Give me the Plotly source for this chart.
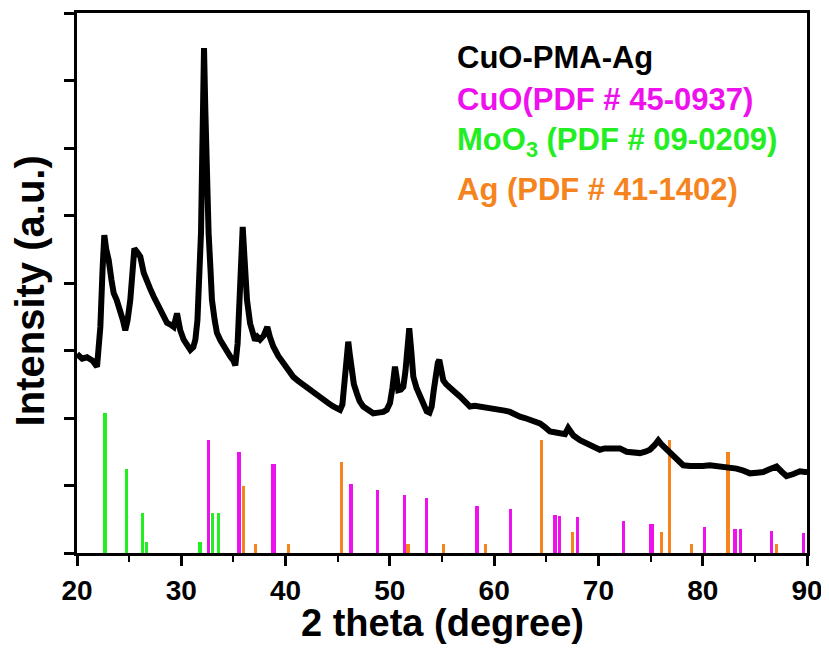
import plotly.graph_objects as go

# ---- XRD pattern of CuO-PMA-Ag ----
two_theta = [20.0, 20.5, 20.96, 21.5, 21.92, 22.24, 22.45, 22.62, 22.8, 23.04, 23.3, 23.52, 23.8, 24.15, 24.4, 24.63,
             24.85, 25.11, 25.3, 25.5, 25.8, 26.07, 26.4, 26.71, 27.0, 27.35, 27.7, 27.99, 28.3, 28.63, 29.0, 29.27,
             29.59, 29.9, 30.23, 30.55, 30.87, 31.15, 31.35, 31.55, 31.66, 31.8, 31.89, 32.0, 32.1, 32.18, 32.3, 32.45,
             32.62, 32.8, 32.94, 33.2, 33.42, 33.75, 34.06, 34.4, 34.7, 35.0, 35.18, 35.4, 35.6, 35.75, 35.89, 36.05,
             36.3, 36.6, 36.94, 37.07, 37.3, 37.55, 37.9, 38.25, 38.5, 38.82, 39.3, 39.78, 40.25, 40.74, 41.2, 41.7,
             42.2, 42.66, 43.1, 43.61, 44.1, 44.57, 45.0, 45.22, 45.45, 45.6, 45.8, 46.01, 46.15, 46.33, 46.55, 46.82,
             47.1, 47.45, 47.9, 48.41, 48.9, 49.37, 49.7, 50.01, 50.25, 50.49, 50.65, 50.81, 51.05, 51.29, 51.5, 51.7,
             51.86, 52.05, 52.25, 52.55, 52.89, 53.2, 53.53, 53.8, 54.01, 54.2, 54.42, 54.6, 54.74, 54.9, 55.12, 55.4,
             55.76, 56.2, 56.72, 57.2, 57.68, 58.15, 58.64, 59.1, 59.6, 60.1, 60.56, 61.0, 61.52, 62.0, 62.47, 62.95,
             63.43, 63.9, 64.39, 64.9, 65.35, 65.8, 66.31, 66.8, 67.1, 67.3, 67.6, 68.23, 68.7, 69.19, 69.7, 70.14,
             70.6, 71.1, 71.42, 72.06, 72.7, 73.3, 73.98, 74.5, 74.94, 75.4, 75.74, 76.1, 76.54, 77.17, 77.6, 78.13,
             78.8, 79.41, 80.0, 80.69, 81.3, 81.97, 82.6, 83.25, 83.9, 84.53, 85.2, 85.8, 86.4, 87.08, 87.6, 88.04,
             88.7, 89.32, 89.8, 90.0]
intensity = [2.95, 2.88, 2.90, 2.85, 2.76, 3.35, 4.2, 4.71, 4.5, 4.34, 4.05, 3.85, 3.75, 3.6, 3.45, 3.3,
             3.45, 3.75, 4.25, 4.51, 4.45, 4.39, 4.15, 4.0, 3.92, 3.80, 3.68, 3.6, 3.52, 3.41, 3.38, 3.35,
             3.55, 3.3, 3.16, 3.08, 3.01, 3.05, 3.16, 3.45, 3.75, 4.2, 4.74, 5.8, 6.9, 7.48, 6.6, 5.5,
             4.74, 4.2, 3.75, 3.45, 3.26, 3.15, 3.06, 2.98, 2.91, 2.85, 2.78, 3.1, 3.75, 4.4, 4.83, 4.4,
             3.75, 3.4, 3.26, 3.15, 3.2, 3.16, 3.22, 3.35, 3.2, 3.06, 2.92, 2.81, 2.7, 2.61, 2.55, 2.49,
             2.43, 2.37, 2.32, 2.27, 2.22, 2.17, 2.14, 2.12, 2.2, 2.46, 2.85, 3.13, 2.95, 2.67, 2.5, 2.37,
             2.25, 2.17, 2.12, 2.07, 2.08, 2.09, 2.12, 2.22, 2.45, 2.76, 2.6, 2.41, 2.42, 2.46, 2.7, 3.1,
             3.33, 3.0, 2.61, 2.45, 2.32, 2.2, 2.1, 2.08, 2.17, 2.4, 2.71, 2.82, 2.86, 2.7, 2.56, 2.5,
             2.46, 2.39, 2.32, 2.25, 2.17, 2.18, 2.17, 2.15, 2.14, 2.15, 2.14, 2.11, 2.09, 2.05, 2.02, 2.0,
             1.97, 1.94, 1.92, 1.86, 1.80, 1.79, 1.77, 1.76, 1.85, 1.80, 1.74, 1.67, 1.63, 1.60, 1.56, 1.53,
             1.55, 1.55, 1.57, 1.55, 1.50, 1.49, 1.48, 1.50, 1.53, 1.6, 1.67, 1.6, 1.53, 1.43, 1.36, 1.30,
             1.29, 1.28, 1.29, 1.30, 1.29, 1.28, 1.27, 1.25, 1.22, 1.18, 1.19, 1.2, 1.24, 1.28, 1.2, 1.14,
             1.17, 1.21, 1.2, 1.2]

# ---- Reference patterns (stick positions and heights) ----
cuo_pos = [32.59, 35.53, 38.72, 38.95, 46.27, 48.83, 51.42, 53.5, 58.35, 61.58, 65.83, 66.28, 68.0,
           72.41, 74.98, 75.18, 80.15, 83.09, 83.63, 86.57, 89.67]
cuo_h = [1.68, 1.50, 1.32, 1.32, 1.02, 0.94, 0.86, 0.81, 0.70, 0.65, 0.57, 0.55, 0.53,
         0.47, 0.43, 0.43, 0.38, 0.35, 0.35, 0.32, 0.29]

moo3_pos = [22.68, 24.73, 26.3, 26.65, 31.8, 32.97, 33.6]
moo3_h = [2.08, 1.24, 0.59, 0.16, 0.16, 0.59, 0.59]

ag_pos = [35.95, 37.1, 40.3, 45.34, 51.74, 55.16, 59.15, 64.52, 67.55, 76.05, 76.85, 78.93, 82.42, 87.08]
ag_h = [0.99, 0.13, 0.13, 1.35, 0.13, 0.13, 0.13, 1.68, 0.31, 0.31, 1.67, 0.13, 1.50, 0.13]

x_ticks = [20, 30, 40, 50, 60, 70, 80, 90]

labels = ["CuO-PMA-Ag", "CuO(PDF # 45-0937)", "MoO<sub>3</sub> (PDF # 09-0209)", "Ag (PDF # 41-1402)"]

BLACK = "#000000"
MAGENTA = "#ee11ee"
GREEN = "#22ee22"
ORANGE = "#f5841f"
FONT = "Liberation Sans, Arial, sans-serif"

fig = go.Figure()

for pos, h, col in [(moo3_pos, moo3_h, GREEN), (cuo_pos, cuo_h, MAGENTA), (ag_pos, ag_h, ORANGE)]:
    fig.add_trace(go.Bar(x=pos, y=h, width=0.3, marker=dict(color=col, line=dict(width=0)),
                         showlegend=False))

fig.add_trace(go.Scatter(x=two_theta, y=intensity, mode="lines",
                         line=dict(color=BLACK, width=6), showlegend=False))

# page body has an 8px margin: figure sized/margined so the plot area lands where the reference has it
fig.update_layout(
    width=821, height=640,
    margin=dict(l=69, r=22, t=5, b=95, autoexpand=False),
    plot_bgcolor="white", paper_bgcolor="white",
    barmode="overlay", bargap=0,
    font=dict(family=FONT, color="black"),
)

fig.update_xaxes(
    range=[20, 90], tickvals=x_ticks, ticks="outside", ticklen=10, tickwidth=3, tickcolor="black",
    minor=dict(dtick=5, tick0=20, ticks="outside", ticklen=6, tickwidth=2, tickcolor="black"),
    showline=True, linewidth=3, linecolor="black", mirror=True, showgrid=False, zeroline=False,
    automargin=False,
    tickfont=dict(size=28, family=FONT, weight="bold"),
)
fig.update_yaxes(
    range=[0, 8], dtick=1, tick0=0, ticks="outside", ticklen=10, tickwidth=3, tickcolor="black",
    showticklabels=False, automargin=False,
    showline=True, linewidth=3, linecolor="black", mirror=True, showgrid=False, zeroline=False,
)

fig.add_annotation(x=0.5, y=-0.129, xref="paper", yref="paper", text="2 theta (degree)",
                   showarrow=False, xanchor="center", yanchor="middle", borderpad=0,
                   font=dict(size=38, family=FONT, weight="bold", color="black"))

fig.add_annotation(x=-0.064, y=0.485, xref="paper", yref="paper", text="Intensity (a.u.)",
                   textangle=-90, showarrow=False, xanchor="center", yanchor="middle", borderpad=0,
                   font=dict(size=40, family=FONT, weight="bold", color="black"))

colors = [BLACK, MAGENTA, GREEN, ORANGE]
ypos = [0.918, 0.840, 0.762, 0.674]
for txt, col, yp in zip(labels, colors, ypos):
    fig.add_annotation(x=0.518, y=yp, xref="paper", yref="paper", text=txt, showarrow=False,
                       xanchor="left", yanchor="middle",
                       font=dict(size=31, family=FONT, weight="bold", color=col))

fig.write_html("out.html")
